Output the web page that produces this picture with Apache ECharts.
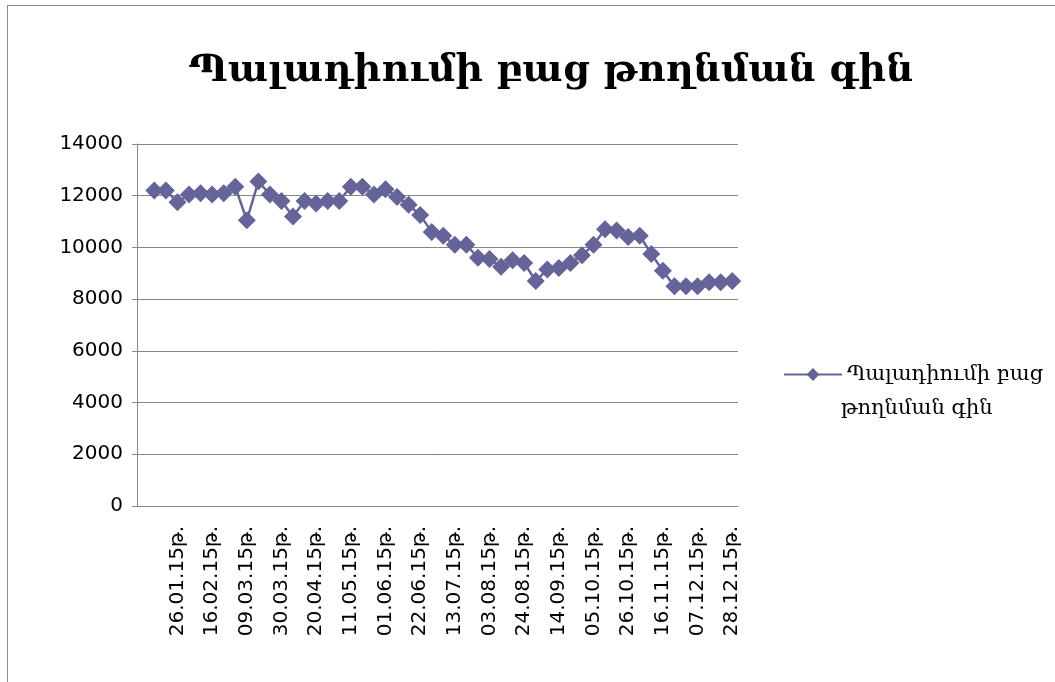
<!DOCTYPE html>
<html>
<head>
<meta charset="utf-8">
<script src="https://cdn.jsdelivr.net/npm/echarts@6/dist/echarts.min.js"></script>
<style>
  html, body { margin: 0; padding: 0; background: #fff; overflow: hidden; }
  #frame { position: absolute; left: 7px; top: 5px; width: 1070px; height: 700px; border: 1px solid #8c8c8c; }
  #chart { position: absolute; left: 0; top: 0; width: 1055px; height: 682px; }
</style>
</head>
<body>
<div id="frame"></div>
<div id="chart"></div>
<script>
  var titleText = 'Պալադիումի բաց թողնման գին';
  var seriesName = 'Պալադիումի բաց թողնման գին';
  var legendLine1 = 'Պալադիումի բաց';
  var legendLine2 = 'թողնման գին';

  // weekly dates (Mondays of 2015)
  var dates = [
    '05.01.15թ.', '12.01.15թ.', '19.01.15թ.', '26.01.15թ.',
    '02.02.15թ.', '09.02.15թ.', '16.02.15թ.', '23.02.15թ.',
    '02.03.15թ.', '09.03.15թ.', '16.03.15թ.', '23.03.15թ.', '30.03.15թ.',
    '06.04.15թ.', '13.04.15թ.', '20.04.15թ.', '27.04.15թ.',
    '04.05.15թ.', '11.05.15թ.', '18.05.15թ.', '25.05.15թ.',
    '01.06.15թ.', '08.06.15թ.', '15.06.15թ.', '22.06.15թ.', '29.06.15թ.',
    '06.07.15թ.', '13.07.15թ.', '20.07.15թ.', '27.07.15թ.',
    '03.08.15թ.', '10.08.15թ.', '17.08.15թ.', '24.08.15թ.', '31.08.15թ.',
    '07.09.15թ.', '14.09.15թ.', '21.09.15թ.', '28.09.15թ.',
    '05.10.15թ.', '12.10.15թ.', '19.10.15թ.', '26.10.15թ.',
    '02.11.15թ.', '09.11.15թ.', '16.11.15թ.', '23.11.15թ.', '30.11.15թ.',
    '07.12.15թ.', '14.12.15թ.', '21.12.15թ.', '28.12.15թ.'
  ];

  var prices = [
    null, 12200, 12200, 11750, 12050, 12100, 12050, 12100, 12350, 11050,
    12550, 12050, 11800, 11200, 11800, 11700, 11800, 11800, 12350, 12350,
    12050, 12250, 11950, 11650, 11250, 10600, 10450, 10100, 10100, 9600,
    9550, 9250, 9500, 9400, 8700, 9150, 9200, 9400, 9700, 10100,
    10700, 10650, 10400, 10450, 9750, 9100, 8500, 8500, 8500, 8650,
    8650, 8700
  ];

  var yTicks = [0, 2000, 4000, 6000, 8000, 10000, 12000, 14000];

  var lineColor = '#646499';
  var axisGrey = '#868686';

  var chart = echarts.init(document.getElementById('chart'));
  chart.setOption({
    animation: false,
    title: {
      text: titleText,
      left: 546,
      top: 47,
      textAlign: 'center',
      textStyle: { fontFamily: 'DejaVu Serif', fontSize: 38, fontWeight: 'bold', color: '#000' }
    },
    legend: {
      left: 778,
      top: 359,
      itemWidth: 58,
      itemHeight: 16,
      formatter: function () { return legendLine1; },
      textStyle: { fontFamily: 'DejaVu Serif', fontSize: 21, color: '#000' },
      data: [seriesName]
    },
    graphic: [{
      type: 'text',
      left: 841,
      top: 398,
      style: { text: legendLine2, font: '21px "DejaVu Serif"', fill: '#000' }
    }],
    grid: { left: 137, right: 317, top: 144, bottom: 176 },
    xAxis: {
      type: 'category',
      data: dates,
      boundaryGap: true,
      axisLine: { lineStyle: { color: axisGrey, width: 1 } },
      axisTick: { interval: 0, length: 6, lineStyle: { color: axisGrey } },
      axisLabel: {
        rotate: 90,
        interval: function (i) { return i > 0 && i % 3 === 0; },
        fontFamily: 'DejaVu Sans',
        fontSize: 20,
        color: '#000',
        margin: 20
      }
    },
    yAxis: {
      type: 'value',
      min: yTicks[0],
      max: yTicks[yTicks.length - 1],
      interval: 2000,
      axisLine: { show: true, lineStyle: { color: axisGrey, width: 1 } },
      axisTick: { show: true, length: 5, lineStyle: { color: axisGrey } },
      splitLine: { show: true, lineStyle: { color: axisGrey, width: 1 } },
      axisLabel: {
        fontFamily: 'DejaVu Sans', fontSize: 20, color: '#000', margin: 14,
        formatter: function (v) { return String(v); }
      }
    },
    series: [{
      name: seriesName,
      type: 'line',
      data: prices,
      symbol: 'diamond',
      symbolSize: 18,
      showSymbol: true,
      showAllSymbol: true,
      connectNulls: false,
      lineStyle: { color: lineColor, width: 2.5 },
      itemStyle: { color: lineColor }
    }]
  });
</script>
</body>
</html>
